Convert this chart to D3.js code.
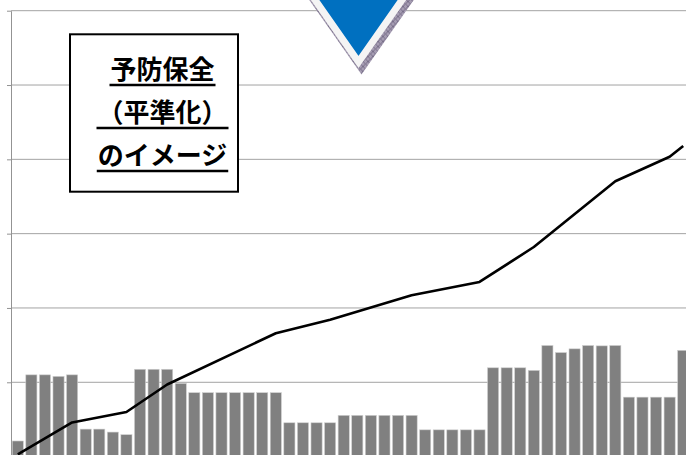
<!DOCTYPE html>
<html>
<head>
<meta charset="utf-8">
<script src="https://cdn.jsdelivr.net/npm/d3@7"></script>
<style>
  html, body { margin: 0; padding: 0; background: #ffffff; overflow: hidden; }
  svg { display: block; }
</style>
</head>
<body>
<svg id="chart" width="686" height="455"></svg>
<script>
// Fiscal-year slots along the category axis
const categories = [
   1,  2,  3,  4,  5,  6,  7,  8,  9, 10,
  11, 12, 13, 14, 15, 16, 17, 18, 19, 20,
  21, 22, 23, 24, 25, 26, 27, 28, 29, 30,
  31, 32, 33, 34, 35, 36, 37, 38, 39, 40,
  41, 42, 43, 44, 45, 46, 47, 48, 49, 50
];

// Yearly maintenance cost (bars)
const yearlyCost = [
   21, 110, 110, 108, 110,  37,  37,  33, 29.5, 117.5,
  117.5, 117.5, 98.5, 86,  86,  86,  86,  86,  86,  86,
  45.5, 45.5, 45.5, 45.5, 55.5, 55.5, 55.5, 55.5, 55.5, 55.5,
   36,  36,  36,  36,  36, 119.5, 119.5, 119.5, 116, 149.5,
  140, 145, 149.5, 149, 149.5, 80,  80,  80,  80, 143
];

// Cumulative cost line: break points (category, value)
const cumulativeCats   = [1, 5, 9, 12, 20, 24, 30, 35, 39, 45, 49, 50];
const cumulativeValues = [3, 46, 60, 97, 166, 184, 217, 235, 282, 370.5, 403.5, 418];

// Value axis ticks
const yTicks = [0, 100, 200, 300, 400, 500, 600];

// Caption box text
const captionLines = ["予防保全", "（平準化）", "のイメージ"];

const W = 686, H = 455;
const svg = d3.select("#chart");

const x = d3.scaleBand()
  .domain(categories)
  .range([11, 690])
  .paddingInner(0.18)
  .paddingOuter(0.09);

const y = d3.scaleLinear()
  .domain([0, 600])
  .range([456.6, 10.7]);

// defs: hatched shadow for the marker
const defs = svg.append("defs");
const pat = defs.append("pattern")
  .attr("id", "shadowHatch")
  .attr("patternUnits", "userSpaceOnUse")
  .attr("width", 5).attr("height", 5);
pat.append("rect").attr("width", 5).attr("height", 5).attr("fill", "#a59cb2");
pat.append("path").attr("d", "M0,0L5,5M5,0L0,5")
  .attr("stroke", "#6d6480").attr("stroke-width", 0.8);

// gridlines
svg.append("g").attr("class", "grid")
  .selectAll("line")
  .data(yTicks)
  .join("line")
  .attr("x1", 11).attr("x2", W)
  .attr("y1", d => y(d)).attr("y2", d => y(d))
  .attr("stroke", "#a3a3a3")
  .attr("stroke-width", 1);

// value axis (labels fall outside the visible area)
const axis = svg.append("g")
  .attr("transform", "translate(11,0)")
  .call(d3.axisLeft(y).tickValues(yTicks).tickFormat("").tickSizeInner(4).tickSizeOuter(0));
axis.selectAll("path, line").attr("stroke", "#939393").attr("stroke-width", 1);

// bars
svg.append("g").attr("class", "bars")
  .selectAll("rect")
  .data(categories.map((c, i) => ({ c, v: yearlyCost[i] })))
  .join("rect")
  .attr("x", d => x(d.c))
  .attr("width", x.bandwidth())
  .attr("y", d => y(d.v))
  .attr("height", d => y(0) - y(d.v))
  .attr("fill", "#808080")
  .attr("stroke", "#cfcfcf")
  .attr("stroke-width", 0.6);

// cumulative line
const linePts = cumulativeCats.map((c, i) => ({ c, v: cumulativeValues[i] }));
svg.append("path")
  .datum(linePts)
  .attr("fill", "none")
  .attr("stroke", "#000000")
  .attr("stroke-width", 2.6)
  .attr("stroke-linejoin", "round")
  .attr("d", d3.line()
    .x(d => x(d.c) + x.bandwidth() / 2)
    .y(d => y(d.v)));

// downward marker at the top
const apexX = 358.5, apexY = 62, slope = 0.70, topY = -40;
const tri = `M${apexX - (apexY - topY) * slope},${topY}L${apexX + (apexY - topY) * slope},${topY}L${apexX},${apexY}Z`;
svg.append("path")
  .attr("d", tri)
  .attr("transform", "translate(3,6.5)")
  .attr("fill", "url(#shadowHatch)")
  .attr("stroke", "url(#shadowHatch)")
  .attr("stroke-width", 7)
  .attr("stroke-linejoin", "miter");
svg.append("path")
  .attr("d", tri)
  .attr("fill", "#0070c0")
  .attr("stroke", "#f4f4f4")
  .attr("stroke-width", 7)
  .attr("stroke-linejoin", "miter");

// caption box
svg.append("rect")
  .attr("x", 70).attr("y", 34.3)
  .attr("width", 168).attr("height", 157.4)
  .attr("fill", "#ffffff")
  .attr("stroke", "#000000")
  .attr("stroke-width", 2);

const baselines = [78.5, 121.5, 164.5];
const cap = svg.append("g")
  .attr("font-family", "'Noto Sans CJK JP', 'Noto Sans CJK SC', sans-serif")
  .attr("font-weight", 700)
  .attr("font-size", 26)
  .attr("fill", "#000000");
captionLines.forEach((t, i) => {
  const txt = cap.append("text")
    .attr("x", 162.5)
    .attr("y", baselines[i])
    .attr("text-anchor", "middle")
    .text(t);
  const len = txt.node().getComputedTextLength();
  cap.append("line")
    .attr("x1", 162.5 - len / 2 - 1)
    .attr("x2", 162.5 + len / 2 + 1)
    .attr("y1", baselines[i] + 6.5)
    .attr("y2", baselines[i] + 6.5)
    .attr("stroke", "#000000")
    .attr("stroke-width", 2.4);
});
</script>
</body>
</html>
